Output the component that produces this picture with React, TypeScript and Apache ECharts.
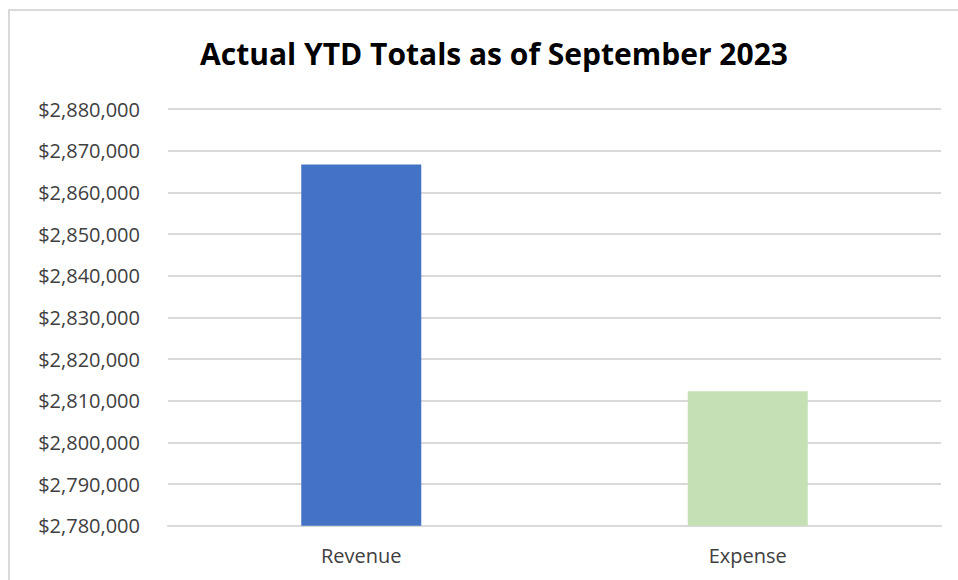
import React, { useEffect, useRef } from "react";
import * as echarts from "echarts";

const categories = ["Revenue", "Expense"];
const values = [2866700, 2812250];
const barColors = ["#4472c4", "#c5e0b4"];
const yMin = 2780000;
const yMax = 2880000;
const yStep = 10000;
const title = "Actual YTD Totals as of September 2023";

export default function App() {
  const ref = useRef<HTMLDivElement>(null);
  useEffect(() => {
    if (!ref.current) return;
    const chart = echarts.init(ref.current, null, { renderer: "svg" });
    chart.setOption({
      animation: false,
      backgroundColor: "#ffffff",
      title: {
        text: title,
        left: 489,
        textAlign: "center",
        top: 33,
        textStyle: {
          fontFamily: "Open Sans",
          fontWeight: "bold",
          fontSize: 30,
          color: "#000000",
        },
      },
      graphic: [
        { type: "line", shape: { x1: 8, y1: 10, x2: 958, y2: 10 }, style: { stroke: "#d9d9d9", lineWidth: 2 } },
        { type: "line", shape: { x1: 9, y1: 10, x2: 9, y2: 580 }, style: { stroke: "#d9d9d9", lineWidth: 2 } },
      ],
      grid: { left: 168, right: 17, top: 109, bottom: 54.3 },
      xAxis: {
        type: "category",
        data: categories,
        axisLine: { show: true, lineStyle: { color: "#d9d9d9", width: 2 } },
        axisTick: { show: false },
        axisLabel: {
          margin: 20,
          fontFamily: "Open Sans",
          fontSize: 20,
          color: "#404040",
        },
      },
      yAxis: {
        type: "value",
        min: yMin,
        max: yMax,
        interval: yStep,
        axisLine: { show: false },
        axisTick: { show: false },
        splitLine: { lineStyle: { color: "#d9d9d9", width: 2 } },
        axisLabel: {
          margin: 28,
          fontFamily: "Open Sans",
          fontSize: 20,
          color: "#404040",
          formatter: (v: number) => "$" + v.toLocaleString("en-US"),
        },
      },
      series: [
        {
          type: "bar",
          barWidth: 120,
          data: values.map((v, i) => ({ value: v, itemStyle: { color: barColors[i] } })),
        },
      ],
    });
    return () => chart.dispose();
  }, []);
  return <div ref={ref} style={{ position: "fixed", left: 0, top: 0, width: 958, height: 580 }} />;
}
